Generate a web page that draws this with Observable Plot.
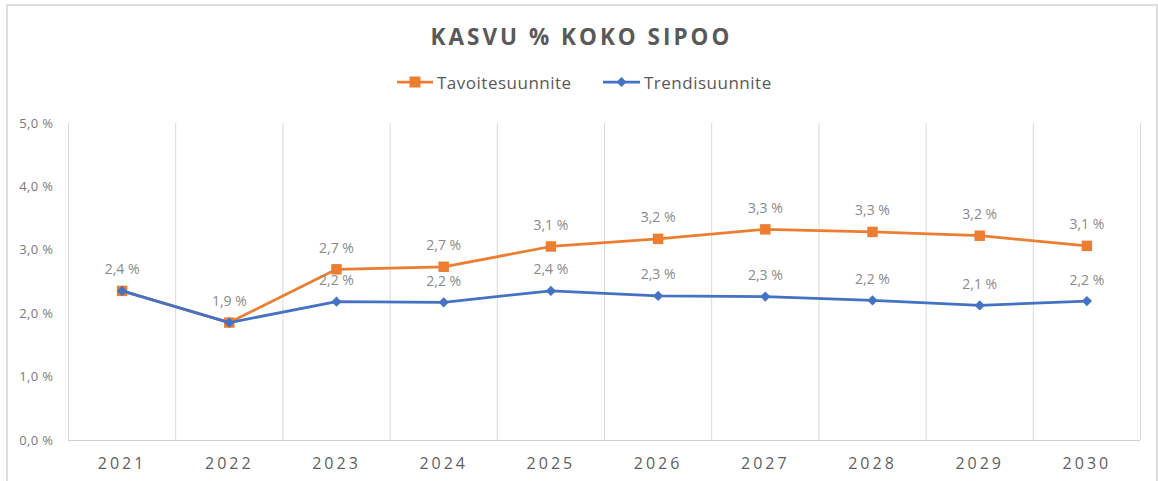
<!DOCTYPE html>
<html>
<head>
<meta charset="utf-8">
<script src="https://cdn.jsdelivr.net/npm/d3@7"></script>
<script src="https://cdn.jsdelivr.net/npm/@observablehq/plot@0.6"></script>
<style>
  html, body { margin: 0; padding: 0; background: #fff; }
  body { width: 1158px; height: 481px; position: relative; overflow: hidden; font-family: "Open Sans", sans-serif; }
  #frame { position: absolute; left: 6px; top: 4px; width: 1152px; height: 520px; box-sizing: border-box; border: 2px solid #dedede; }
  #title { position: absolute; left: 0; top: 0; width: 1158px; height: 74px; line-height: 74px; text-align: center; padding-left: 5px; box-sizing: border-box;
           font-size: 22.5px; font-weight: 700; letter-spacing: 3px; color: #595959; }
  .leg { position: absolute; top: 70px; height: 24px; display: flex; align-items: center; font-size: 17px; letter-spacing: 0.5px; color: #595959; }
  .leg svg { margin-right: 4px; }
  #chart { position: absolute; left: 0; top: 100px; }
  g[aria-label="x-axis tick label"] text { letter-spacing: 3px; }
  g[aria-label="y-axis tick label"] text { letter-spacing: 0.4px; }
  g[aria-label="data label"] text { letter-spacing: 0.6px; }
</style>
</head>
<body>
<div id="frame"></div>
<div id="title"></div>
<div class="leg" id="leg0" style="left:397px"></div>
<div class="leg" id="leg1" style="left:603px"></div>
<div id="chart"></div>
<script>
const chartTitle = "KASVU % KOKO SIPOO";
const seriesNames = ["Tavoitesuunnite", "Trendisuunnite"];
const years = [2021, 2022, 2023, 2024, 2025, 2026, 2027, 2028, 2029, 2030];
const tavoite = [2.36, 1.86, 2.70, 2.74, 3.06, 3.18, 3.33, 3.29, 3.23, 3.07];
const trendi  = [2.36, 1.86, 2.19, 2.18, 2.36, 2.28, 2.27, 2.21, 2.13, 2.20];
const yTicks = [0, 1, 2, 3, 4, 5];

const ORANGE = "#ED7D31", BLUE = "#4472C4";
const pct = v => v.toFixed(1).replace(".", ",") + " %";

document.getElementById("title").textContent = chartTitle;
document.getElementById("leg0").innerHTML =
  `<svg width="36" height="14"><line x1="0" y1="7" x2="36" y2="7" stroke="${ORANGE}" stroke-width="2.75"/><rect x="12.5" y="1.5" width="11" height="11" fill="${ORANGE}"/></svg><span>${seriesNames[0]}</span>`;
document.getElementById("leg1").innerHTML =
  `<svg width="37" height="14"><line x1="0" y1="7" x2="37" y2="7" stroke="${BLUE}" stroke-width="2.75"/><path d="M18.5,2 L23.5,7 L18.5,12 L13.5,7 Z" fill="${BLUE}"/></svg><span>${seriesNames[1]}</span>`;

const orange = years.map((year, i) => ({year, value: tavoite[i]}));
const blue = years.map((year, i) => ({year, value: trendi[i]}));
const blueLabels = blue.filter((d, i) => d.value !== tavoite[i]);
const bounds = years.map(y => y - 0.5).concat([years[years.length - 1] + 0.5]);

const chart = Plot.plot({
  width: 1158,
  height: 381,
  marginTop: 23,
  marginBottom: 41,
  marginLeft: 68,
  marginRight: 18,
  x: {domain: [bounds[0], bounds[bounds.length - 1]]},
  y: {domain: [0, 5]},
  style: {fontFamily: "'Open Sans', sans-serif", background: "transparent", overflow: "visible"},
  marks: [
    Plot.ruleX(bounds, {y1: 0, y2: 5, stroke: "#d9d9d9", strokeWidth: 1}),
    Plot.ruleY([0], {stroke: "#cfcfcf", strokeWidth: 1.2}),
    Plot.axisX({ticks: years, tickFormat: d => String(d), tickSize: 0, tickPadding: 17, fontSize: 16, color: "#5f5f5f", label: null}),
    Plot.axisY({ticks: yTicks, tickFormat: pct, tickSize: 0, tickPadding: 15, fontSize: 13, color: "#7a7a7a", label: null}),
    Plot.line(orange, {x: "year", y: "value", stroke: ORANGE, strokeWidth: 2.75}),
    Plot.dot(orange, {x: "year", y: "value", symbol: "square", r: 5.9, fill: ORANGE}),
    Plot.line(blue, {x: "year", y: "value", stroke: BLUE, strokeWidth: 2.75}),
    Plot.dot(blue, {x: "year", y: "value", symbol: "diamond2", r: 4.6, fill: BLUE}),
    Plot.text(orange, {x: "year", y: "value", text: d => pct(d.value), dy: -21, fontSize: 14, fill: "#8a8a8a", ariaLabel: "data label"}),
    Plot.text(blueLabels, {x: "year", y: "value", text: d => pct(d.value), dy: -21, fontSize: 14, fill: "#8a8a8a", ariaLabel: "data label"})
  ]
});
document.getElementById("chart").appendChild(chart);
</script>
</body>
</html>
